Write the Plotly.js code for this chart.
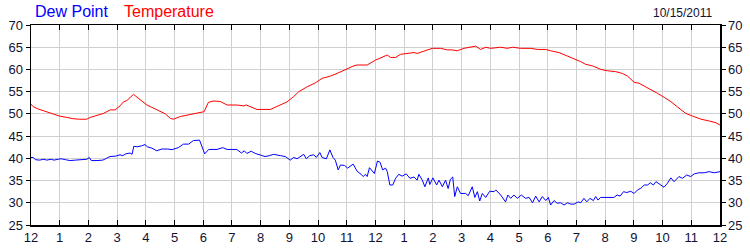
<!DOCTYPE html>
<html>
<head>
<meta charset="utf-8">
<script src="https://cdn.plot.ly/plotly-3.0.1.min.js"></script>
<style>html,body{margin:0;padding:0;background:#fff;}#chart{width:750px;height:250px;}</style>
</head>
<body>
<div id="chart"></div>
<script>
const hourTicks = [0,1,2,3,4,5,6,7,8,9,10,11,12,13,14,15,16,17,18,19,20,21,22,23,24];
const hourLabels = ["12","1","2","3","4","5","6","7","8","9","10","11","12","1","2","3","4","5","6","7","8","9","10","11","12"];
const yTicks = [25,30,35,40,45,50,55,60,65,70];
const chartDate = "10/15/2011";

const tempHours = [0,0.08,0.25,0.43,0.6,0.78,1.0,1.25,1.48,1.7,1.94,2.06,2.29,2.52,2.76,2.93,3.1,3.22,3.34,3.45,3.57,3.8,4.04,4.2,4.38,4.68,4.85,4.96,5.2,5.49,5.78,5.95,6.03,6.18,6.36,6.59,6.83,7.17,7.41,7.5,7.64,7.87,8.34,8.69,8.92,9.15,9.33,9.62,9.91,10.14,10.43,10.66,10.95,11.24,11.36,11.71,12.0,12.23,12.41,12.52,12.7,12.87,13.22,13.34,13.45,13.63,13.8,13.98,14.27,14.5,14.67,14.85,15.08,15.25,15.49,15.66,15.84,16.01,16.19,16.36,16.59,16.77,17.06,17.41,17.64,17.93,18.1,18.39,18.69,18.97,19.15,19.32,19.56,19.85,20.08,20.37,20.6,20.78,21.01,21.18,21.36,21.59,21.83,22.06,22.29,22.53,22.81,23.05,23.34,23.63,23.86,24];
const tempValues = [52.2,51.6,51.1,50.7,50.3,50.0,49.5,49.2,48.9,48.8,48.8,49.2,49.6,50.1,50.9,50.9,51.8,52.7,53.0,53.6,54.4,53.2,52.0,51.5,50.9,50.0,49.0,48.8,49.4,49.75,50.1,50.3,50.5,52.6,52.9,52.8,52.0,52.0,51.8,52.0,51.6,51.0,51.0,52.0,52.7,53.9,55.0,56.1,57.0,58.0,58.5,59.1,60.0,60.8,61.0,61.0,62.1,62.7,63.25,62.7,62.7,63.4,63.6,63.8,63.6,64.0,64.2,64.75,64.75,64.4,64.4,64.2,64.75,65.0,65.25,64.5,65.0,64.75,64.9,65.0,64.75,65.0,64.75,64.75,64.5,64.5,64.2,63.8,63.0,62.3,61.75,61.15,60.8,60.0,59.7,59.5,59.1,58.5,57.1,56.9,56.3,55.5,54.6,53.7,52.75,51.5,50.1,49.5,48.8,48.4,48.0,47.5];

const dewHours = [0,0.08,0.15,0.3,0.45,0.55,0.7,0.8,0.95,1.05,1.2,1.35,1.55,1.75,1.95,2.03,2.1,2.3,2.5,2.6,2.75,2.95,3.1,3.2,3.3,3.45,3.52,3.58,3.7,3.85,3.97,4.05,4.21,4.38,4.56,4.75,4.91,5.13,5.31,5.49,5.66,5.87,5.95,6.05,6.19,6.48,6.68,6.83,7.17,7.33,7.43,7.52,7.67,7.81,7.99,8.15,8.3,8.45,8.69,8.86,9.03,9.15,9.27,9.5,9.59,9.71,9.85,9.94,10.06,10.14,10.29,10.41,10.52,10.6,10.7,10.78,10.92,11.03,11.22,11.36,11.5,11.57,11.65,11.71,11.79,11.96,12.07,12.16,12.25,12.35,12.41,12.5,12.6,12.7,12.81,12.93,13.07,13.2,13.34,13.45,13.51,13.63,13.72,13.84,13.89,14.0,14.13,14.21,14.33,14.44,14.53,14.61,14.69,14.76,14.85,14.96,15.14,15.23,15.37,15.46,15.55,15.63,15.72,15.84,15.98,16.13,16.19,16.36,16.53,16.61,16.71,16.82,16.94,17.08,17.23,17.35,17.47,17.58,17.7,17.81,17.93,18.02,18.1,18.22,18.33,18.45,18.57,18.69,18.8,18.92,19.06,19.15,19.26,19.36,19.47,19.59,19.67,19.75,19.84,20.07,20.3,20.42,20.52,20.64,20.75,20.89,21.01,21.13,21.24,21.36,21.48,21.57,21.68,21.77,21.88,22.05,22.17,22.29,22.4,22.57,22.69,22.84,22.98,23.1,23.27,23.45,23.62,23.8,24.0];
const dewValues = [40.2,40.2,39.7,39.6,39.8,39.6,39.8,39.6,39.8,39.9,39.7,39.5,39.6,39.7,39.8,40.2,39.5,39.5,39.6,39.9,40.4,40.5,40.8,40.6,41.0,41.2,40.9,42.7,42.6,42.8,43.1,42.6,42.3,41.7,42.1,42.1,41.95,42.4,43.2,43.2,44.0,44.1,42.6,41.0,42.0,42.0,42.4,42.0,42.0,41.2,41.7,41.1,41.6,41.1,40.75,40.4,40.6,40.9,40.6,40.4,39.6,40.2,39.9,40.9,39.9,40.6,40.8,40.2,41.3,40.2,39.9,41.9,40.2,39.6,37.4,38.5,38.4,37.8,38.7,37.1,36.4,35.9,36.4,35.9,37.9,36.6,39.4,39.1,37.4,37.8,37.0,34.0,34.0,35.5,36.4,36.0,36.5,35.5,35.8,35.1,36.4,35.1,33.6,35.6,34.1,35.6,34.0,35.1,33.6,35.1,33.2,35.3,35.8,31.4,33.6,32.1,32.1,31.6,33.6,31.2,32.5,30.4,32.1,31.2,32.6,32.5,32.9,31.75,30.2,31.75,31.0,31.75,31.0,31.75,31.0,31.2,30.0,31.5,30.2,31.4,30.5,31.2,29.5,30.5,29.9,30.0,29.5,30.0,29.7,29.7,30.2,30.0,31.0,30.2,31.0,30.5,31.4,30.6,31.2,31.2,31.2,31.75,31.5,32.5,32.3,32.6,32.1,32.9,33.25,34.0,34.0,34.5,34.0,34.75,34.2,33.5,34.4,35.6,34.75,35.9,35.5,36.25,35.9,36.5,36.75,36.75,37.0,36.75,37.0];

const FONT = "Liberation Sans, Arial, sans-serif";
const tickColor = "#111133";

const traces = [
  {x: tempHours, y: tempValues, type: "scatter", mode: "lines", name: "Temperature",
   line: {color: "#ff0000", width: 1}, xaxis: "x", yaxis: "y"},
  {x: dewHours, y: dewValues, type: "scatter", mode: "lines", name: "Dew Point",
   line: {color: "#0000ff", width: 1}, xaxis: "x", yaxis: "y2"}
];

const yCommon = {
  range: [25, 70], tickvals: yTicks, ticktext: yTicks.map(String),
  showline: true, linecolor: "#000", linewidth: 1.5,
  ticks: "outside", ticklen: 4, tickcolor: "#000", tickwidth: 1,
  tickfont: {family: FONT, size: 13, color: tickColor},
  zeroline: false, fixedrange: true
};

const layout = {
  width: 750, height: 250,
  margin: {l: 31, r: 30, t: 25, b: 25, pad: 0},
  paper_bgcolor: "#fff", plot_bgcolor: "#fff",
  showlegend: false,
  font: {family: FONT, size: 13, color: tickColor},
  xaxis: {
    range: [0, 24], tickvals: hourTicks, ticktext: hourLabels,
    showline: true, linecolor: "#000", linewidth: 1.5, mirror: "ticks",
    ticks: "inside", ticklen: 5, tickcolor: "#000", tickwidth: 1,
    showgrid: true, gridcolor: "#d0d0d0", gridwidth: 1,
    tickfont: {family: FONT, size: 13, color: tickColor},
    zeroline: false, fixedrange: true
  },
  yaxis: Object.assign({}, yCommon, {side: "left", showgrid: true, gridcolor: "#d0d0d0", gridwidth: 1}),
  yaxis2: Object.assign({}, yCommon, {side: "right", overlaying: "y", showgrid: false}),
  annotations: [
    {text: "Dew Point", xref: "paper", yref: "paper", x: 0, y: 1, xanchor: "left", yanchor: "bottom",
     xshift: 2, yshift: 3, showarrow: false, font: {family: FONT, size: 16, color: "#0000ff"}},
    {text: "Temperature", xref: "paper", yref: "paper", x: 0, y: 1, xanchor: "left", yanchor: "bottom",
     xshift: 91, yshift: 3, showarrow: false, font: {family: FONT, size: 16, color: "#ff0000"}},
    {text: chartDate, xref: "paper", yref: "paper", x: 1, y: 1, xanchor: "right", yanchor: "bottom",
     xshift: -6, yshift: 3, showarrow: false, font: {family: FONT, size: 12, color: tickColor}}
  ]
};

Plotly.newPlot("chart", traces, layout, {staticPlot: true, displayModeBar: false});
</script>
</body>
</html>
